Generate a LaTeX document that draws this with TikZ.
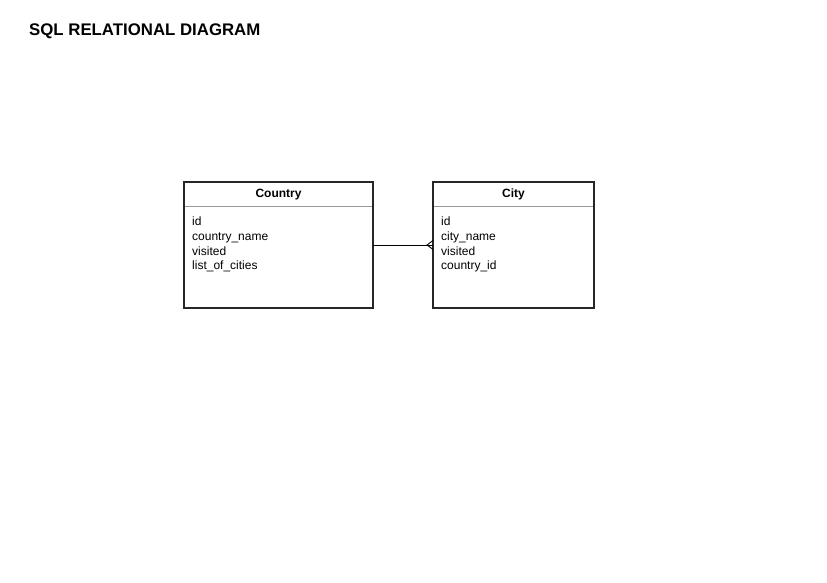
\documentclass[tikz,border=0pt]{standalone}
\usepackage{fontspec}
\setmainfont{Liberation Sans}
\begin{document}
\begin{tikzpicture}[x=1pt,y=-1pt,
  entity/.style={draw=black!85,line width=1.6pt},
  sep/.style={draw=black!40,line width=0.8pt},
  hdr/.style={font=\fontsize{12}{14}\selectfont\bfseries,inner sep=0pt,anchor=base},
  fields/.style={font=\fontsize{12}{14.7}\selectfont,align=left,inner sep=0pt,anchor=north west},
  rel/.style={draw=black,line width=0.9pt}]
\useasboundingbox (0,0) rectangle (827,583);
\node[anchor=base west,inner sep=0pt,font=\fontsize{16.8}{20}\selectfont\bfseries] (title) at (29,36) {SQL RELATIONAL DIAGRAM};
% Country
\draw[entity] (184,182) rectangle (373,308);
\coordinate (countryR) at (373,245);
\draw[sep] (185,206.5) -- (372,206.5);
\node[hdr] (countryH) at (278.5,197.5) {Country};
\node[fields] (countryF) at (192,217) {id\\country\_name\\visited\\list\_of\_cities};
% City
\draw[entity] (433,182) rectangle (594,308);
\coordinate (cityL) at (433,245);
\draw[sep] (434,206.5) -- (593,206.5);
\node[hdr] (cityH) at (513.5,197.5) {City};
\node[fields] (cityF) at (441,217) {id\\city\_name\\visited\\country\_id};
% relation
\coordinate (foot) at (427,245);
\draw[rel] (countryR) -- (cityL);
\draw[rel] (433,240.5) -- (foot) -- (433,249.5);
\end{tikzpicture}
\end{document}
